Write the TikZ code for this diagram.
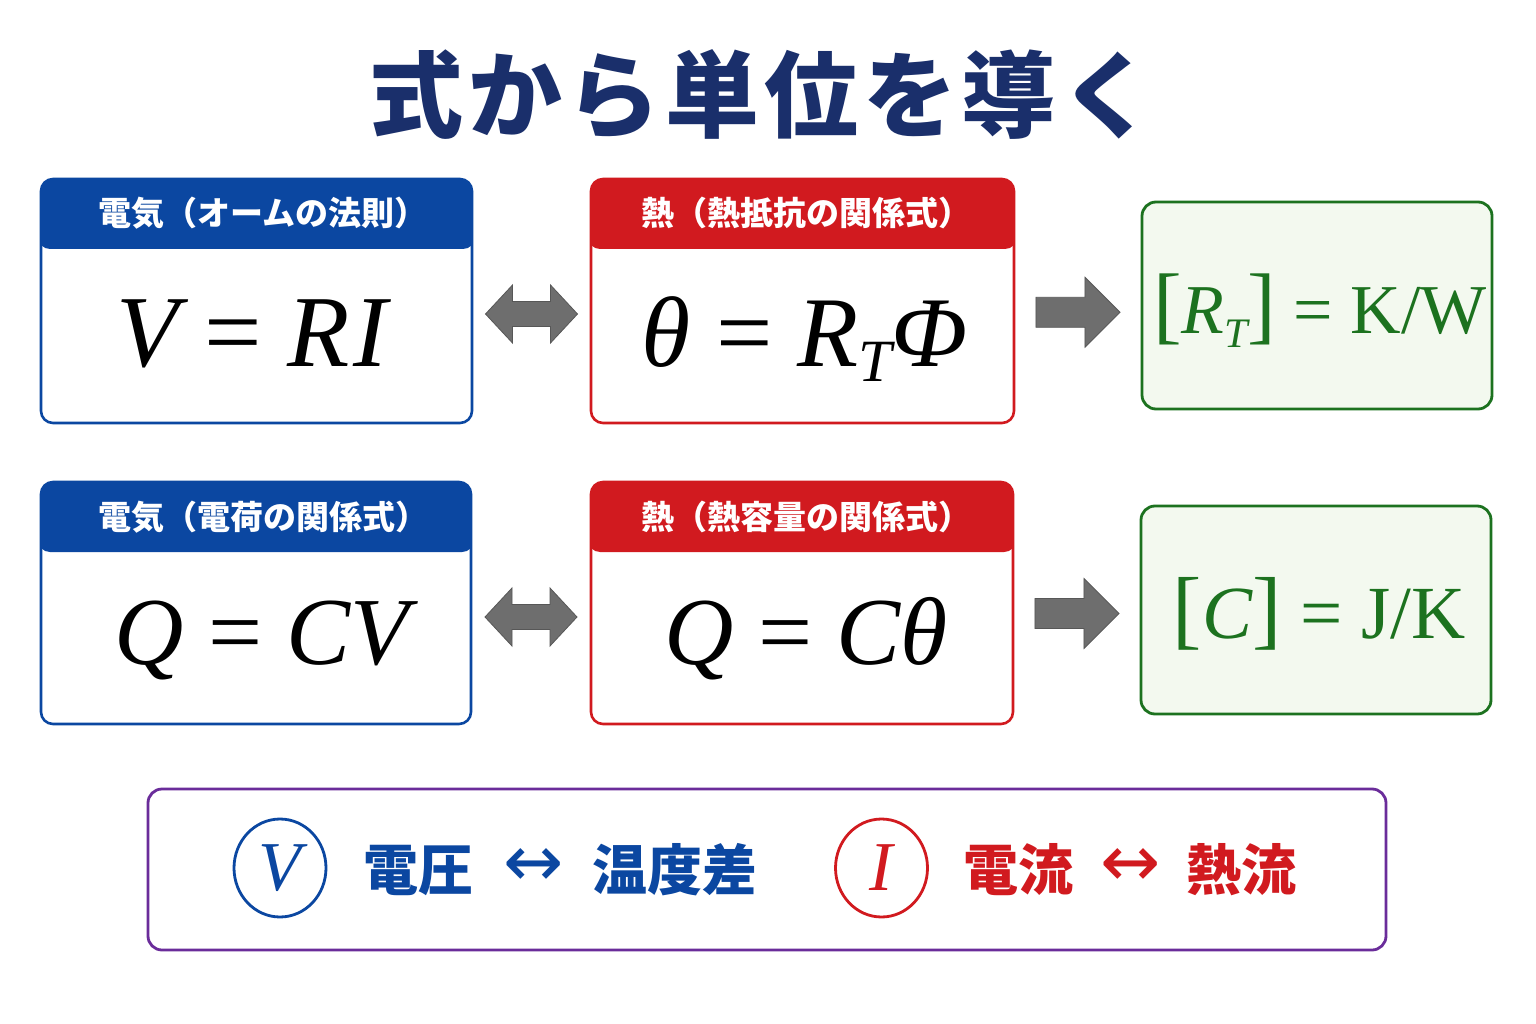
\documentclass[tikz,border=0pt]{standalone}
\usepackage{fontspec}
\setmainfont{Liberation Serif}
\newfontfamily\jp{Noto Sans CJK JP}
\newfontfamily\jptitle{Noto Sans CJK JP}[LetterSpace=5]
\newfontfamily\sym{DejaVu Sans}
\usetikzlibrary{calc,shapes.geometric}
\definecolor{navy}{HTML}{1A2F6B}
\definecolor{eblue}{HTML}{0B47A1}
\definecolor{hred}{HTML}{D11A1F}
\definecolor{dgreen}{HTML}{1C721F}
\definecolor{lgreen}{HTML}{F3F9EF}
\definecolor{purp}{HTML}{6A2C9A}
\definecolor{agray}{HTML}{6E6E6E}
\definecolor{agrayd}{HTML}{575757}
\begin{document}
\begin{tikzpicture}[x=1pt,y=-1pt,
  card/.style={draw=#1, line width=2.6pt, rounded corners=12pt, fill=white, inner sep=0pt,
    path picture={\fill[#1] ([xshift=-3pt,yshift=3pt]path picture bounding box.north west) rectangle ([xshift=3pt,yshift=-70pt]path picture bounding box.north east);}},
  resbox/.style={draw=dgreen, line width=2.8pt, rounded corners=14pt, fill=lgreen, inner sep=0pt},
  hdr/.style={text=white, font=\jp\bfseries\fontsize{33pt}{33pt}\selectfont, inner sep=0pt},
  eq/.style={text=black, font=\fontsize{100pt}{100pt}\selectfont, inner sep=0pt, anchor=base},
  res/.style={text=dgreen, font=\fontsize{70pt}{70pt}\selectfont, inner sep=0pt, anchor=base},
  leg/.style={font=\jp\bfseries\fontsize{55pt}{55pt}\selectfont, inner sep=0pt},
  legarr/.style={font=\sym\fontsize{72pt}{72pt}\selectfont, inner sep=0pt},
  ring/.style={ellipse, draw=#1, text=#1, line width=2.8pt, minimum width=92pt, minimum height=98pt, inner sep=0pt, font=\itshape\fontsize{70pt}{70pt}\selectfont},
  dblarrow/.pic={\fill[agray, draw=agrayd, line width=0.8pt] (-46,0) -- (-19,-29) -- (-19,-12.5) -- (19,-12.5) -- (19,-29) -- (46,0) -- (19,29) -- (19,12.5) -- (-19,12.5) -- (-19,29) -- cycle;},
  rarrow/.pic={\fill[agray, draw=agrayd, line width=0.8pt] (-42,-15) -- (7,-15) -- (7,-35) -- (42,0) -- (7,35) -- (7,15) -- (-42,15) -- cycle;}
]
\useasboundingbox[fill=white] (0,0) rectangle (1536,1024);

% title
\node[text=navy, font=\jptitle\bfseries\fontsize{94pt}{94pt}\selectfont, inner sep=0pt] (title) at (762,95) {式から単位を導く};

% row 1
\node[card=eblue, minimum width=431pt, minimum height=244pt] (e1) at (256.5,301) {};
\node[hdr] (e1h) at (263,213) {電気（オームの法則）};
\node[eq, font=\fontsize{102pt}{102pt}\selectfont] (e1q) at (252,366) {{\itshape V} = {\itshape R\kern3pt I}};

\node[card=hred, minimum width=423pt, minimum height=244pt] (h1) at (802.5,301) {};
\node[hdr] (h1h) at (806,213) {熱（熱抵抗の関係式）};
\node[eq] (h1q) at (805,366) {{\itshape θ} = {\itshape R}\raisebox{-15pt}{\fontsize{60pt}{60pt}\selectfont\itshape T}{\itshape Φ}};

\node[resbox, minimum width=350pt, minimum height=207pt] (r1) at (1317,305.5) {};
\node[res] (r1q) at (1320,333) {{\fontsize{86pt}{86pt}\selectfont[}{\itshape R}\raisebox{-14pt}{\fontsize{42pt}{42pt}\selectfont\itshape T}{\fontsize{86pt}{86pt}\selectfont]} = K/W};

% row 2
\node[card=eblue, minimum width=430pt, minimum height=242pt] (e2) at (256,603) {};
\node[hdr] (e2h) at (263,517) {電気（電荷の関係式）};
\node[eq, font=\fontsize{96pt}{96pt}\selectfont] (e2q) at (262,664) {{\itshape Q} = {\itshape CV}};

\node[card=hred, minimum width=422pt, minimum height=242pt] (h2) at (802,603) {};
\node[hdr] (h2h) at (806,517) {熱（熱容量の関係式）};
\node[eq, font=\fontsize{96pt}{96pt}\selectfont] (h2q) at (806,664) {{\itshape Q} = {\itshape Cθ}};

\node[resbox, minimum width=350pt, minimum height=208pt] (r2) at (1316,610) {};
\node[res, font=\fontsize{75pt}{75pt}\selectfont] (r2q) at (1319,638) {{\fontsize{88pt}{88pt}\selectfont[}{\itshape C}{\fontsize{88pt}{88pt}\selectfont]} = J/K};

% connectors
\coordinate (a1) at ($($(e1.east)!0.5!(h1.west)$)+(0,13)$);
\coordinate (b1) at ($($(h1.east)!0.5!(r1.west)$)+(0,9)$);
\coordinate (a2) at ($($(e2.east)!0.5!(h2.west)$)+(0,14)$);
\coordinate (b2) at ($($(h2.east)!0.5!(r2.west)$)+(0,7)$);
\pic at (a1) {dblarrow};
\pic at (b1) {rarrow};
\pic at (a2) {dblarrow};
\pic at (b2) {rarrow};

% legend
\node[draw=purp, line width=2.8pt, rounded corners=14pt, fill=white, minimum width=1238pt, minimum height=161pt, inner sep=0pt] (lg) at (767,869.5) {};
\node[ring=eblue] (cv) at (280,868) {V};
\node[leg, text=eblue] (t1) at (418.5,870) {電圧};
\node[legarr, text=eblue] (t2) at (534,868) {↔};
\node[leg, text=eblue] (t3) at (674.5,870) {温度差};
\node[ring=hred] (ci) at (881.5,868) {I};
\node[leg, text=hred] (t4) at (1018,870) {電流};
\node[legarr, text=hred] (t5) at (1131,868) {↔};
\node[leg, text=hred] (t6) at (1241.5,870) {熱流};
\end{tikzpicture}
\end{document}
